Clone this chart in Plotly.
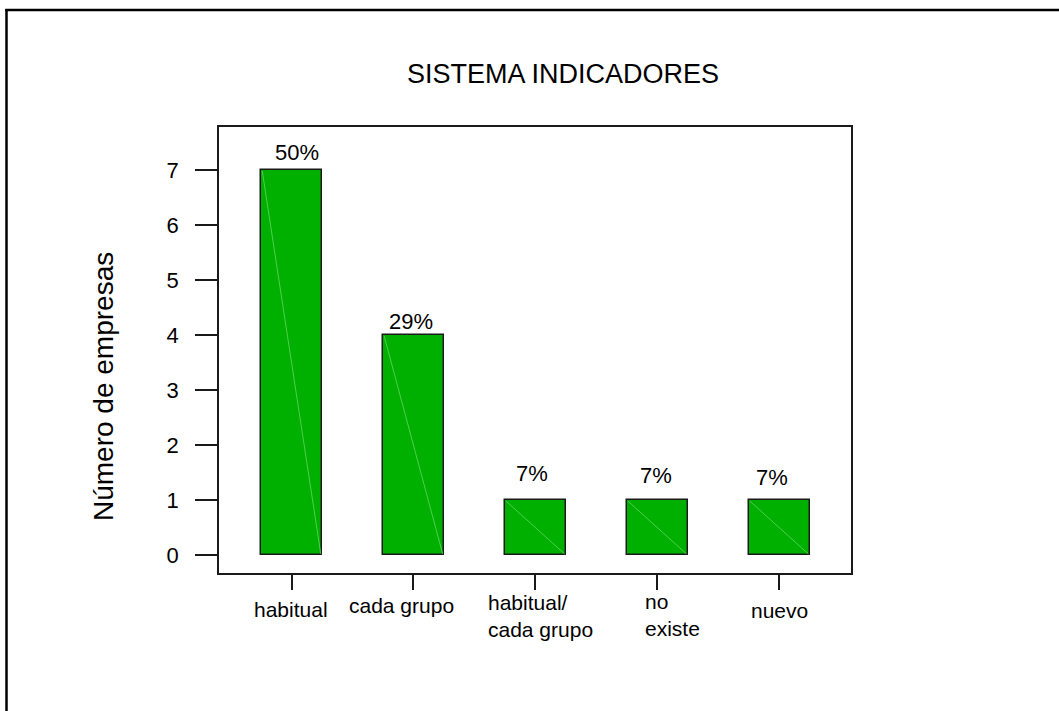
import plotly.graph_objects as go

categories = ["habitual", "cada grupo", "habitual/<br>cada grupo", "no<br>existe", "nuevo"]
values = [7, 4, 1, 1, 1]
pct_labels = ["50%", "29%", "7%", "7%", "7%"]
y_ticks = [0, 1, 2, 3, 4, 5, 6, 7]
title_text = "SISTEMA INDICADORES"
y_title = "Número de empresas"

W, H = 1059, 711
L, R, T, B = 219, 208, 127, 138
PW, PH = W - L - R, H - T - B
FONT = "Arial, Liberation Sans, sans-serif"
GREEN = "#00b000"
BAR_W = 0.5

def px_x(p):
    return (p - L) / PW

def px_y(p):
    return (H - B - p) / PH

xs = list(range(len(categories)))

fig = go.Figure()
fig.add_trace(go.Bar(
    x=xs, y=values, width=BAR_W,
    marker=dict(color=GREEN, line=dict(color="#1a1a1a", width=1.5)),
    showlegend=False, hoverinfo="skip",
))

# faint diagonal artefact lines inside bars (from data)
for xi, v in zip(xs, values):
    fig.add_trace(go.Scatter(
        x=[xi - BAR_W / 2 + 0.01, xi + BAR_W / 2 - 0.01], y=[v - 0.02, 0.02],
        mode="lines", line=dict(color="#66d466", width=0.8),
        showlegend=False, hoverinfo="skip",
    ))

annotations = []
# percentage labels
x_shifts = [5, -2, -3, -1, -7]
y_shifts = [3, -1, 12, 10, 8]
for xi, v, t, dx, dy in zip(xs, values, pct_labels, x_shifts, y_shifts):
    annotations.append(dict(
        x=xi, y=v, xref="x", yref="y", text=t, showarrow=False,
        xanchor="center", yanchor="bottom", xshift=dx, yshift=dy,
        font=dict(family=FONT, size=22, color="#000000"),
    ))

# category labels
cat_pos = [  # (x pixel, anchor, y pixel top)
    (291, "center", 596),
    (401, "center", 592),
    (486, "left", 589),
    (643, "left", 588),
    (779, "center", 597),
]
for t, (xp, anc, yp) in zip(categories, cat_pos):
    annotations.append(dict(
        x=px_x(xp), y=px_y(yp), xref="paper", yref="paper", text=t,
        showarrow=False, xanchor=anc, yanchor="top", align="left",
        font=dict(family=FONT, size=21, color="#000000"),
    ))

# title
annotations.append(dict(
    x=px_x(563), y=px_y(74), xref="paper", yref="paper", text=title_text,
    showarrow=False, xanchor="center", yanchor="middle",
    font=dict(family=FONT, size=27, color="#000000"),
))
# y title
annotations.append(dict(
    x=px_x(103), y=px_y(387), xref="paper", yref="paper", text=y_title,
    showarrow=False, xanchor="center", yanchor="middle", textangle=-90,
    font=dict(family=FONT, size=28, color="#000000"),
))

shapes = [
    dict(type="line", xref="paper", yref="paper",
         x0=px_x(6.5), x1=px_x(6.5), y0=px_y(9), y1=px_y(730),
         line=dict(color="#000000", width=2.5)),
    dict(type="line", xref="paper", yref="paper",
         x0=px_x(5.3), x1=px_x(1070), y0=px_y(10), y1=px_y(10),
         line=dict(color="#000000", width=2.5)),
]

fig.update_layout(
    width=W, height=H,
    margin=dict(l=L, r=R, t=T, b=B, pad=0),
    paper_bgcolor="white", plot_bgcolor="white",
    annotations=annotations, shapes=shapes,
    font=dict(family=FONT, color="#000000"),
    bargap=0,
)
fig.update_xaxes(
    range=[-0.595, 4.59], tickvals=xs, ticktext=[""] * len(xs),
    showticklabels=False, ticks="outside", ticklen=15, tickwidth=1.5,
    tickcolor="#1a1a1a", showline=True, linecolor="#1a1a1a", linewidth=1.5,
    mirror=True, showgrid=False, zeroline=False, fixedrange=True,
)
fig.update_yaxes(
    range=[-0.327, 7.78], tickvals=y_ticks, ticks="outside", ticklen=22,
    tickwidth=1.5, tickcolor="#1a1a1a", showline=True, linecolor="#1a1a1a",
    linewidth=1.5, mirror=True, showgrid=False, zeroline=False,
    tickfont=dict(family=FONT, size=22, color="#000000"),
    ticklabelstandoff=12, fixedrange=True,
)

fig.write_html("out.html")
